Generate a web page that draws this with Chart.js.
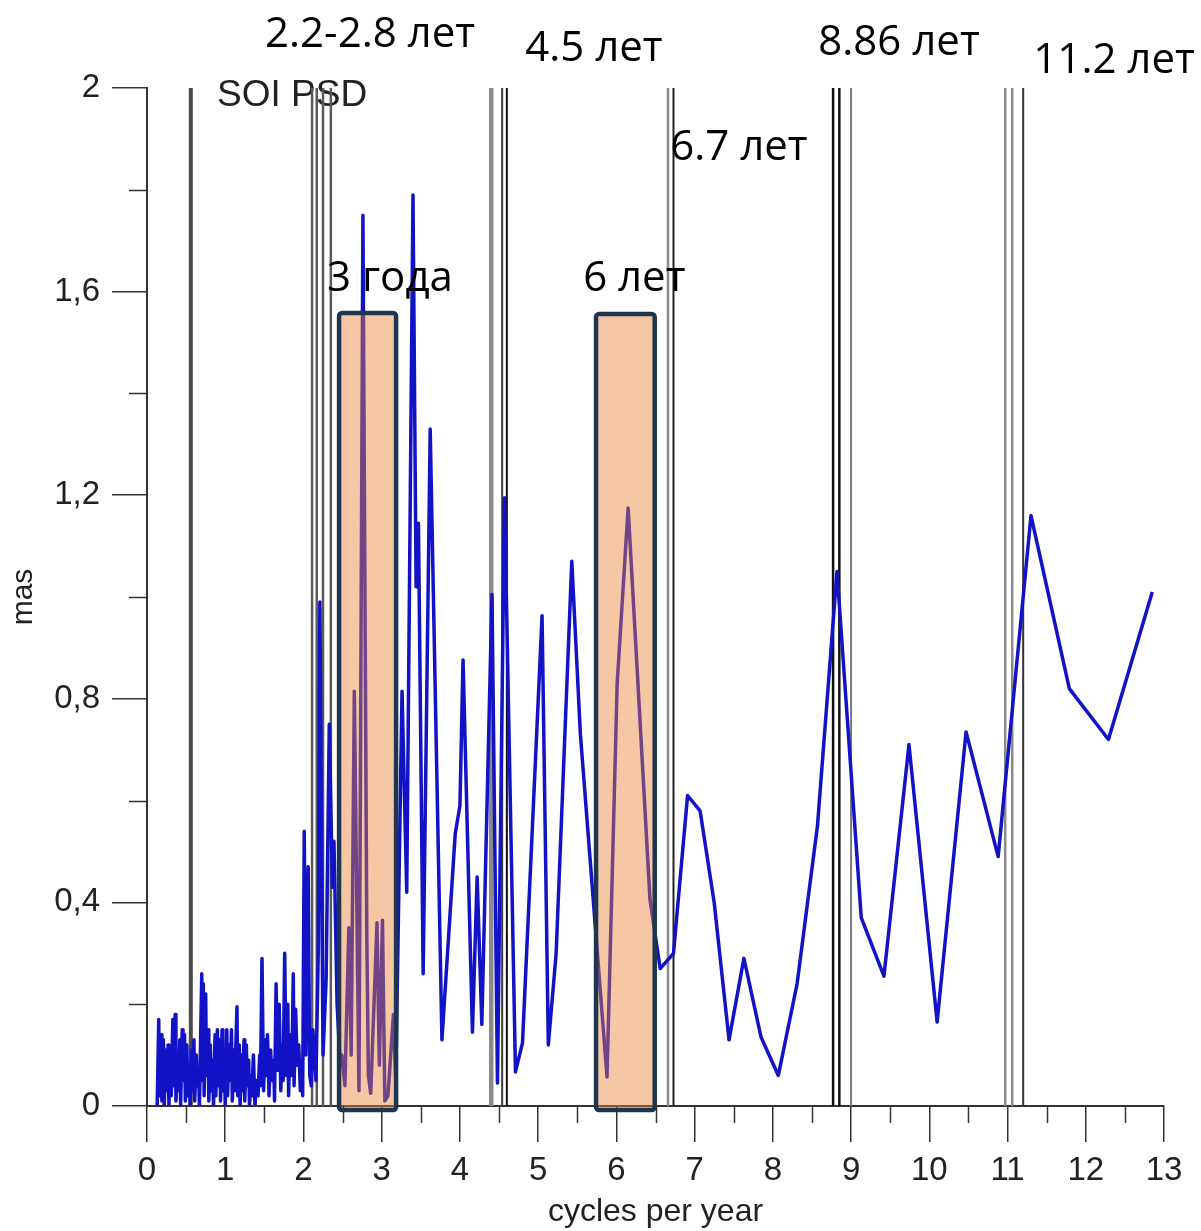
<!DOCTYPE html>
<html><head><meta charset="utf-8">
<script src="https://cdn.jsdelivr.net/npm/chart.js@4.4.1/dist/chart.umd.min.js"></script>
<style>html,body{margin:0;padding:0;background:#fff}#wrap{width:1201px;height:1231px}</style>
</head><body><div id="wrap"><canvas id="c" width="1201" height="1231"></canvas></div>
<script>
// ---- data ----
const freq = [
0.13,0.15,0.16,0.18,0.19,0.21,0.22,0.24,0.25,0.27,0.28,0.30,0.31,0.33,0.34,0.36,0.37,0.39,0.40,0.42,
0.43,0.45,0.46,0.48,0.49,0.51,0.52,0.54,0.55,0.57,0.58,0.60,0.61,0.63,0.64,0.66,0.67,0.70,0.71,0.72,
0.73,0.75,0.76,0.78,0.79,0.81,0.82,0.84,0.85,0.87,0.88,0.90,0.91,0.93,0.94,0.96,0.97,0.99,1.00,1.02,
1.03,1.05,1.06,1.08,1.09,1.11,1.12,1.15,1.16,1.18,1.19,1.21,1.22,1.24,1.25,1.27,1.28,1.30,1.31,1.33,
1.34,1.36,1.38,1.40,1.42,1.44,1.45,1.47,1.49,1.51,1.52,1.54,1.56,1.58,1.60,1.62,1.63,1.65,1.67,1.69,
1.71,1.73,1.74,1.76,1.78,1.80,1.81,1.83,1.85,1.87,1.88,1.90,1.92,1.94,1.96,1.98,1.99,2.01,2.03,2.06,
2.08,2.10,2.12,2.16,2.19,2.21,2.25,2.29,2.33,2.37,2.39,2.43,2.47,2.49,2.53,2.58,2.61,2.65,2.71,2.76,
2.81,2.83,2.86,2.94,2.97,3.01,3.04,3.08,3.15,3.18,3.26,3.32,3.40,3.44,3.47,3.53,3.62,3.77,3.94,4.00,
4.04,4.16,4.22,4.28,4.41,4.48,4.57,4.71,4.80,5.05,5.13,5.23,5.43,5.54,5.88,6.01,6.15,6.43,6.56,6.73,
6.91,7.07,7.25,7.44,7.63,7.85,8.07,8.31,8.57,8.82,9.13,9.42,9.74,10.10,10.47,10.88,11.30,11.79,12.29,12.85
];
const psd = [
0.00,0.17,0.02,0.14,0.01,0.13,0.00,0.11,0.03,0.12,0.00,0.10,0.02,0.17,0.04,0.18,0.01,0.09,0.03,0.13,
0.00,0.15,0.05,0.14,0.01,0.12,0.02,0.08,0.00,0.11,0.03,0.13,0.01,0.10,0.04,0.07,0.00,0.26,0.05,0.24,
0.02,0.22,0.06,0.15,0.01,0.12,0.03,0.09,0.00,0.14,0.02,0.15,0.04,0.13,0.01,0.15,0.03,0.10,0.00,0.15,
0.02,0.12,0.05,0.15,0.01,0.11,0.03,0.195,0.02,0.12,0.00,0.10,0.03,0.13,0.01,0.12,0.04,0.09,0.00,0.06,
0.02,0.10,0.00,0.05,0.02,0.10,0.04,0.29,0.03,0.13,0.06,0.14,0.02,0.11,0.05,0.09,0.01,0.24,0.07,0.20,
0.03,0.12,0.05,0.30,0.06,0.20,0.02,0.14,0.06,0.26,0.04,0.19,0.08,0.12,0.03,0.09,0.02,0.54,0.10,0.47,
0.06,0.04,0.15,0.05,0.31,0.99,0.10,0.25,0.75,0.43,0.52,0.20,0.08,0.10,0.04,0.35,0.10,0.815,0.03,1.75,
0.33,0.06,0.025,0.36,0.08,0.365,0.01,0.02,0.18,0.05,0.815,0.42,1.79,1.02,1.145,0.26,1.33,0.13,0.535,0.59,
0.876,0.145,0.45,0.16,1.005,0.045,1.195,0.067,0.124,0.963,0.12,0.30,1.07,0.73,0.057,0.83,1.175,0.405,0.27,0.30,
0.61,0.58,0.40,0.13,0.29,0.135,0.06,0.24,0.55,1.05,0.37,0.255,0.71,0.165,0.735,0.49,1.16,0.82,0.72,1.01
];
// reference frequency lines (cycles per year)
const markerFreqs = [0.56, 2.11, 2.17, 2.25, 2.35, 4.40, 4.54, 4.60, 6.66, 6.73, 8.77, 8.85, 9.00, 10.97, 11.06, 11.20];
// highlighted bands
const bandFrom = [2.455, 5.74];
const bandTo   = [3.184, 6.49];
const bandTop  = [1.558, 1.556];
// annotation texts
const noteTexts = ['2.2-2.8 лет', '4.5 лет', '8.86 лет', '11.2 лет', '6.7 лет', '3 года', '6 лет'];
const noteFreq  = [1.509, 4.834, 8.581, 11.33, 6.688, 2.302, 5.575];
const noteLevel = [2.081, 2.053, 2.065, 2.029, 1.859, 1.601, 1.601];
const chartTitle = 'SOI PSD';
const xTitle = 'cycles per year';
const yTitle = 'mas';

// ---- styles (kept separate) ----
const markerStyle = [
  ['#4a4a4a',4],['#5a5a5a',2.5],['#5a5a5a',2.5],['#5a5a5a',2.5],['#5a5a5a',2.5],
  ['#8a8a8a',4.5],['#3a3a3a',2],['#111',2],
  ['#8a8a8a',2.5],['#222',2],
  ['#111',2.5],['#111',2.5],['#7a7a7a',2],
  ['#8a8a8a',2.5],['#8a8a8a',2.5],['#333',2]
];
const AX = '#333';
const TICKFONT = {family:'Liberation Sans, Arial, sans-serif', size:33};

const datasets = [{
  data: freq.map((f,i)=>({x:f, y:psd[i]})),
  borderColor:'#1212c6', borderWidth:3.5, pointRadius:0, tension:0,
  borderJoinStyle:'round', order:0
}];
markerFreqs.forEach((f,i)=>{
  datasets.push({
    data:[{x:f,y:0},{x:f,y:2}],
    borderColor:markerStyle[i][0], borderWidth:markerStyle[i][1],
    pointRadius:0, order:1
  });
});

const isMajorY = v => Math.round(v*10) % 4 === 0;
const extras = {
  id:'extras',
  beforeDatasetsDraw(chart){
    const {ctx, scales:{x,y}} = chart;
    ctx.save();
    ctx.font = '37px "Liberation Sans", Arial, sans-serif';
    ctx.fillStyle = '#222';
    ctx.textBaseline = 'alphabetic';
    ctx.fillText(chartTitle, x.getPixelForValue(0.895), y.getPixelForValue(1.965));
    ctx.restore();
  },
  afterDatasetsDraw(chart){
    const {ctx, scales:{x,y}} = chart;
    bandFrom.forEach((b,i)=>{
      const x0=x.getPixelForValue(b), x1=x.getPixelForValue(bandTo[i]);
      const y0=y.getPixelForValue(bandTop[i]), y1=y.getPixelForValue(-0.008);
      ctx.save();
      ctx.beginPath();
      ctx.roundRect(x0,y0,x1-x0,y1-y0,3);
      ctx.fillStyle='rgba(236,130,54,0.45)';
      ctx.fill();
      ctx.lineWidth=4.5; ctx.strokeStyle='#1e3550';
      ctx.stroke();
      ctx.restore();
    });
  },
  afterDraw(chart){
    const {ctx, scales:{x,y}} = chart;
    ctx.save();
    ctx.strokeStyle=AX; ctx.lineWidth=1.5;
    // minor ticks
    for (let v=0.5; v<13; v+=1){
      const px=Math.round(x.getPixelForValue(v))+0.5;
      ctx.beginPath(); ctx.moveTo(px,y.bottom); ctx.lineTo(px,y.bottom+17); ctx.stroke();
    }
    [0.2,0.6,1.0,1.4,1.8].forEach(v=>{
      const py=Math.round(y.getPixelForValue(v))+0.5;
      ctx.beginPath(); ctx.moveTo(x.left-18,py); ctx.lineTo(x.left,py); ctx.stroke();
    });
    // annotations
    ctx.font = '42px "Open Sans", "Noto Sans", sans-serif';
    ctx.fillStyle='#000';
    ctx.textBaseline='alphabetic';
    noteTexts.forEach((t,i)=>{
      ctx.fillText(t, x.getPixelForValue(noteFreq[i]), y.getPixelForValue(noteLevel[i]));
    });
    ctx.restore();
  }
};

new Chart(document.getElementById('c'), {
  type:'line',
  data:{datasets},
  plugins:[extras],
  options:{
    responsive:false, animation:false,
    layout:{padding:{top:88,right:37,left:0,bottom:0}},
    plugins:{legend:{display:false}, tooltip:{enabled:false}},
    scales:{
      x:{
        type:'linear', min:0, max:13,
        afterFit(s){ s.height=125; },
        ticks:{stepSize:0.5, autoSkip:false, maxRotation:0, padding:9, color:'#222', font:TICKFONT,
          callback:v=> Number.isInteger(v) ? String(v) : ''},
        grid:{drawOnChartArea:false, tickLength:36, lineWidth:1.5,
          color:c=> Number.isInteger(c.tick.value) ? AX : 'rgba(0,0,0,0)'},
        border:{color:AX, width:2},
        title:{display:true, text:xTitle, color:'#222', font:{family:'Liberation Sans, Arial, sans-serif', size:32}, padding:{top:0,bottom:0}}
      },
      y:{
        type:'linear', min:0, max:2,
        afterFit(s){ s.width=147; },
        ticks:{stepSize:0.2, autoSkip:false, padding:12, color:'#222', font:TICKFONT,
          callback:v=> isMajorY(v) ? (Math.round(v*10)/10).toString().replace('.',',') : ''},
        grid:{drawOnChartArea:false, tickLength:35, lineWidth:1.5,
          color:c=> isMajorY(c.tick.value) ? AX : 'rgba(0,0,0,0)'},
        border:{color:AX, width:2},
        title:{display:true, text:yTitle, color:'#222', font:{family:'Liberation Sans, Arial, sans-serif', size:30}, padding:{top:6,bottom:0}}
      }
    }
  }
});
</script></body></html>
